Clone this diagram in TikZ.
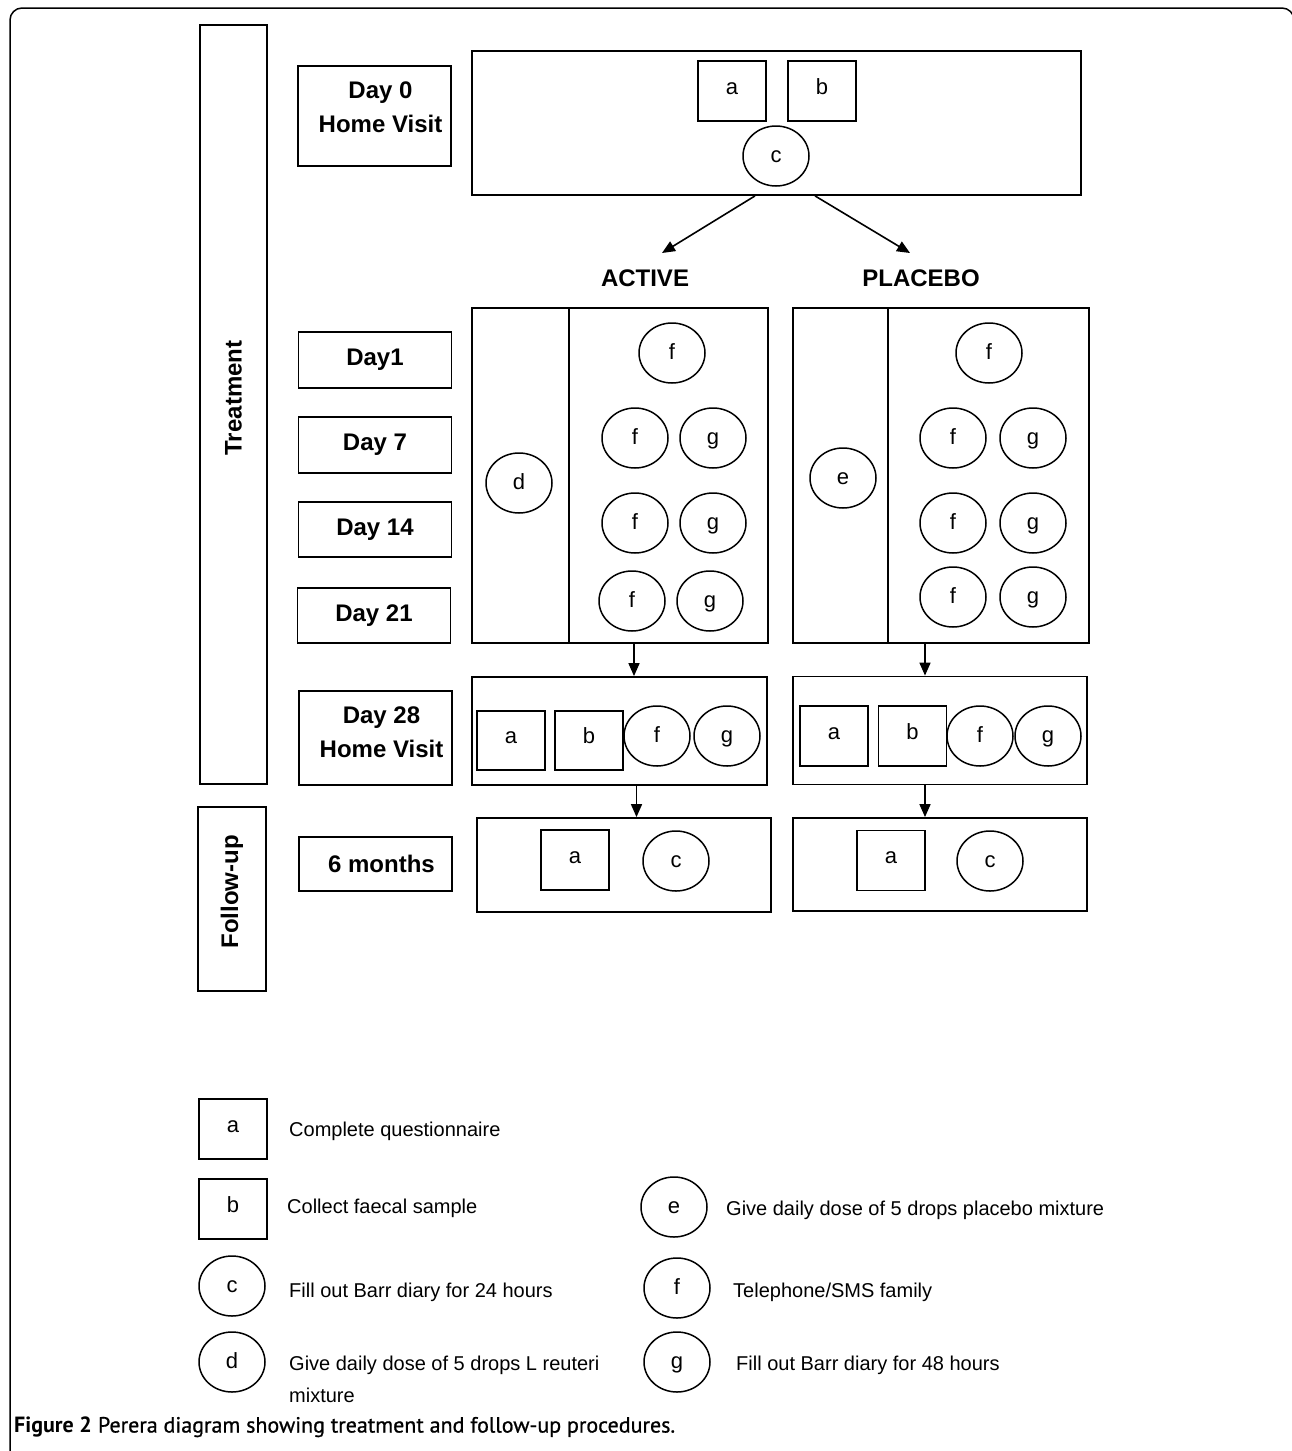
\documentclass[tikz,border=0pt]{standalone}
\usepackage{fontspec}
\setmainfont{Liberation Sans}
\newfontfamily\capfont{PT Sans}
\newfontfamily\capsemi[FakeBold=0.8]{PT Sans}
\usetikzlibrary{shapes.geometric,arrows.meta}

\begin{document}
\begin{tikzpicture}[x=1pt, y=-1pt,
    box/.style={draw, line width=1.8pt, inner sep=0pt},
    day/.style={box, minimum width=153pt, font=\fontsize{24}{34}\selectfont\bfseries},
    daytxt/.style={align=center, inner sep=0pt, font=\fontsize{24}{34}\selectfont\bfseries},
    sq/.style={draw, line width=1.5pt, minimum width=68pt, minimum height=60pt,
      inner sep=0pt, text height=16pt, text depth=10pt, font=\fontsize{22}{22}\selectfont},
    ell/.style={draw, ellipse, line width=1.5pt, minimum width=66pt, minimum height=60pt,
      inner sep=0pt, text height=16pt, text depth=4pt, font=\fontsize{22}{22}\selectfont},
    key/.style={anchor=west, inner sep=0pt, align=left, font=\fontsize{20}{32}\selectfont}]
    \useasboundingbox (0,0) rectangle (1292,1451);
    \draw[line width=1.5pt, rounded corners=12pt] (10,1470) -- (10,8) -- (1294,8) -- (1294,1470);

    % phases and days
    \node[box, rotate=90, minimum width=759pt, minimum height=67pt,
      font=\fontsize{24}{24}\selectfont\bfseries] (treat) at (233.5,404.5) {\hspace*{13pt}Treatment};
    \node[box, rotate=90, minimum width=184pt, minimum height=68pt,
      font=\fontsize{24}{24}\selectfont\bfseries] (follow) at (232,899) {\hspace*{14pt}Follow-up};

    \begin{scope}[every node/.style={day}]
      \node[minimum height=100pt, label={[daytxt, xshift=6pt, yshift=9pt]center:Day 0\\Home Visit}] (d0) at (374.5,116) {};
      \node[minimum height=56pt] (d1) at (375,360) {Day1};
      \node[minimum height=56pt] (d7) at (375,445) {Day 7};
      \node[minimum height=55pt] (d14) at (375,529.5) {Day 14};
      \node[minimum height=55pt] (d21) at (374,615.5) {Day 21};
      \node[minimum height=94pt, label={[daytxt, xshift=6pt, yshift=6pt]center:Day 28\\Home Visit}] (d28) at (375.5,738) {};
      \node[minimum height=54pt] (m6) at (375.5,864) {\hspace{12pt}6 months};
    \end{scope}

    % group boxes
    \begin{scope}[every node/.style={box}]
      \node[minimum width=609pt, minimum height=144pt] (start) at (776.5,123) {};
      \node[minimum width=296pt, minimum height=335pt] (acttr) at (620,475.5) {};
      \node[minimum width=296pt, minimum height=335pt] (plctr) at (941,475.5) {};
      \node[minimum width=295pt, minimum height=108pt] (act28) at (619.5,731) {};
      \node[minimum width=294pt, minimum height=108pt] (plc28) at (940,730.5) {};
      \node[minimum width=294pt, minimum height=94pt] (act6) at (624,865) {};
      \node[minimum width=294pt, minimum height=93pt] (plc6) at (940,864.5) {};
    \end{scope}
    \draw[line width=1.8pt] ([xshift=98pt]acttr.north west) -- ([xshift=98pt]acttr.south west);
    \draw[line width=1.8pt] ([xshift=96pt]plctr.north west) -- ([xshift=96pt]plctr.south west);

    \node[font=\fontsize{24}{24}\selectfont\bfseries] (active) at (645,278) {ACTIVE};
    \node[font=\fontsize{24}{24}\selectfont\bfseries] (placebo) at (921,278) {PLACEBO};

    % day 0
    \node[sq] (s0a) at (732,91) {a};
    \node[sq] (s0b) at (822,91) {b};
    \node[ell] (s0c) at (776,156) {c};

    % active treatment
    \node[ell] (ad) at (519,483) {d};
    \node[ell] (af1) at (672,353) {f};
    \node[ell] (af7) at (635,438) {f}; \node[ell] (ag7) at (713,438) {g};
    \node[ell] (af14) at (635,523) {f}; \node[ell] (ag14) at (713,523) {g};
    \node[ell] (af21) at (632,601) {f}; \node[ell] (ag21) at (710,601) {g};

    % placebo treatment
    \node[ell] (pe) at (843,478) {e};
    \node[ell] (pf1) at (989,353) {f};
    \node[ell] (pf7) at (953,438) {f}; \node[ell] (pg7) at (1033,438) {g};
    \node[ell] (pf14) at (953,523) {f}; \node[ell] (pg14) at (1033,523) {g};
    \node[ell] (pf21) at (953,597) {f}; \node[ell] (pg21) at (1033,597) {g};

    % day 28
    \node[sq, minimum height=59pt] (a28a) at (511,740.5) {a};
    \node[sq, minimum height=59pt] (a28b) at (589,740.5) {b};
    \node[ell] (a28f) at (657,736) {f};
    \node[ell] (a28g) at (727,736) {g};
    \node[sq] (p28a) at (834,736) {a};
    \node[sq] (p28b) at (912.5,736) {b};
    \node[ell] (p28f) at (980,736) {f};
    \node[ell] (p28g) at (1048,736) {g};

    % 6 months
    \node[sq] (a6a) at (575,860) {a};
    \node[ell] (a6c) at (676,861) {c};
    \node[sq] (p6a) at (891,860.5) {a};
    \node[ell] (p6c) at (990,861) {c};

    \coordinate (actin) at (662,253);
    \coordinate (plcin) at (910,253);
    \begin{scope}[->, >={Triangle[length=13pt, width=11pt]}, line width=1.6pt]
      \draw ([xshift=-21.5pt]start.south) -- (actin);
      \draw ([xshift=38.5pt]start.south) -- (plcin);
      \draw ([xshift=14pt]acttr.south) -- ([xshift=14pt]acttr.south |- act28.north);
      \draw ([xshift=-16pt]plctr.south) -- ([xshift=-16pt]plctr.south |- plc28.north);
      \draw ([xshift=17pt]act28.south) -- ([xshift=17pt]act28.south |- act6.north);
      \draw ([xshift=-15pt]plc28.south) -- ([xshift=-15pt]plc28.south |- plc6.north);
    \end{scope}

    % key
    \node[sq] (ka) at (233,1129) {a};
    \node[sq] (kb) at (233,1209) {b};
    \node[ell] (kc) at (232,1286) {c};
    \node[ell] (kd) at (232,1362) {d};
    \node[ell] (ke) at (674,1207) {e};
    \node[ell] (kf) at (677,1288) {f};
    \node[ell] (kg) at (677,1362) {g};
    \node[key] (ta) at (289,1131) {Complete questionnaire};
    \node[key] (tb) at (287,1208) {Collect faecal sample};
    \node[key] (tc) at (289,1292) {Fill out Barr diary for 24 hours};
    \node[key] (td) at (289,1379) {Give daily dose of 5 drops L reuteri\\mixture};
    \node[key] (te) at (726,1210) {Give daily dose of 5 drops placebo mixture};
    \node[key] (tf) at (733,1292) {Telephone/SMS family};
    \node[key] (tg) at (736,1365) {Fill out Barr diary for 48 hours};

    \node[anchor=west, inner sep=0pt, font=\fontsize{22}{22}\selectfont] (caption) at (14,1427)
      {{\capfont\bfseries Figure 2} {\capsemi Perera diagram showing treatment and follow-up procedures.}};
  \end{tikzpicture}
\end{document}
